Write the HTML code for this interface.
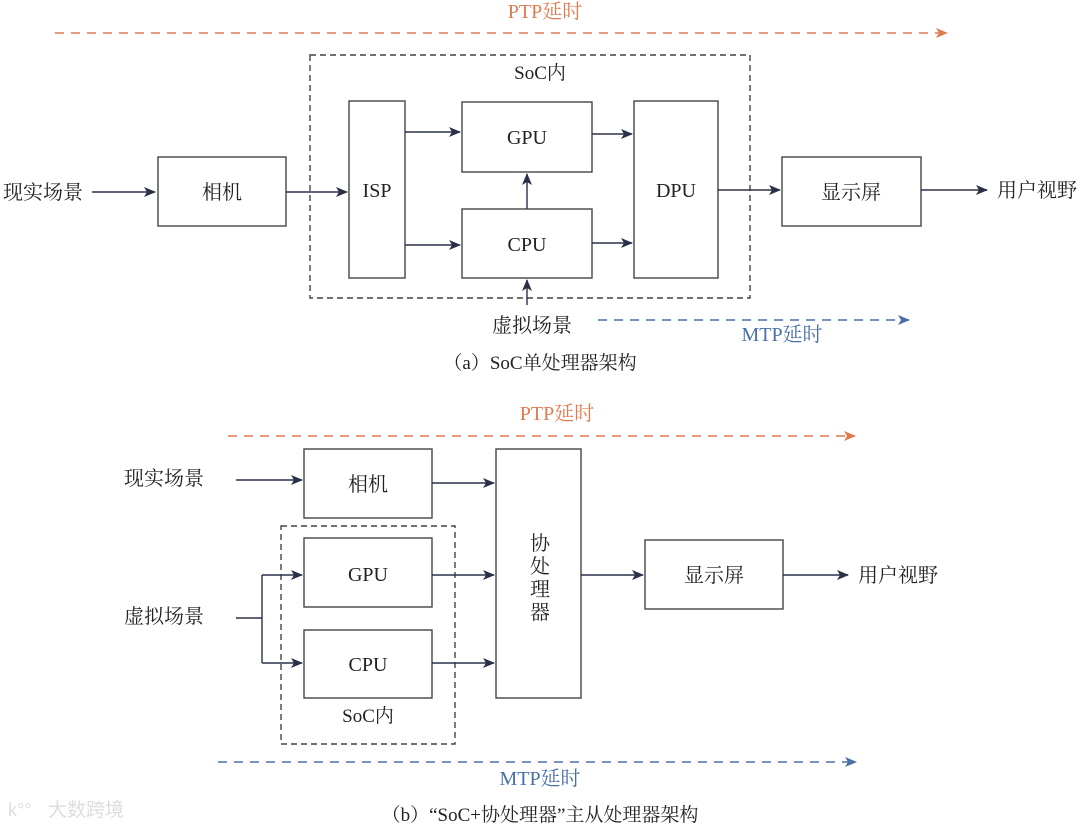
<!DOCTYPE html>
<html><head><meta charset="utf-8"><style>
body{margin:0;background:#fff}
svg{display:block}
text{font-family:"Liberation Serif","Noto Serif CJK SC",serif;fill:#222}
</style></head><body>
<svg width="1080" height="829" viewBox="0 0 1080 829" xmlns="http://www.w3.org/2000/svg">
<defs>
<marker id="a" markerWidth="12" markerHeight="10" refX="11" refY="5" orient="auto" markerUnits="userSpaceOnUse"><path d="M0,0 L12,5 L0,10 L3,5z" fill="#2a3048"/></marker>
<marker id="o" markerWidth="12" markerHeight="10" refX="11" refY="5" orient="auto" markerUnits="userSpaceOnUse"><path d="M0,0 L12,5 L0,10 L3,5z" fill="#e07a50"/></marker>
<marker id="b" markerWidth="12" markerHeight="10" refX="11" refY="5" orient="auto" markerUnits="userSpaceOnUse"><path d="M0,0 L12,5 L0,10 L3,5z" fill="#4a70a8"/></marker>
</defs>
<g fill="none" stroke="#444" stroke-width="1.4">
<rect x="310" y="55" width="440" height="243" stroke-dasharray="6,4"/>
<rect x="158" y="157" width="128" height="69"/>
<rect x="349" y="101" width="56" height="177"/>
<rect x="462" y="102" width="130" height="70"/>
<rect x="462" y="209" width="130" height="69"/>
<rect x="634" y="101" width="84" height="177"/>
<rect x="782" y="157" width="139" height="69"/>
<rect x="281" y="526" width="174" height="218" stroke-dasharray="6,4"/>
<rect x="304" y="449" width="128" height="69"/>
<rect x="496" y="449" width="85" height="249"/>
<rect x="304" y="538" width="128" height="69"/>
<rect x="304" y="630" width="128" height="68"/>
<rect x="645" y="540" width="138" height="69"/>
</g>
<g stroke="#2a3048" stroke-width="1.4" fill="none" marker-end="url(#a)">
<line x1="92" y1="192" x2="155" y2="192"/>
<line x1="286" y1="192" x2="347" y2="192"/>
<line x1="405" y1="132" x2="460" y2="132"/>
<line x1="405" y1="245" x2="460" y2="245"/>
<line x1="592" y1="134" x2="632" y2="134"/>
<line x1="592" y1="243" x2="632" y2="243"/>
<line x1="527" y1="209" x2="527" y2="174"/>
<line x1="527" y1="305" x2="527" y2="280"/>
<line x1="718" y1="190" x2="780" y2="190"/>
<line x1="921" y1="190" x2="987" y2="190"/>
<line x1="236" y1="480" x2="302" y2="480"/>
<line x1="432" y1="483" x2="494" y2="483"/>
<line x1="432" y1="575" x2="494" y2="575"/>
<line x1="432" y1="663" x2="494" y2="663"/>
<line x1="581" y1="575" x2="643" y2="575"/>
<line x1="783" y1="575" x2="848" y2="575"/>
<polyline points="262,575 302,575"/>
<polyline points="262,663 302,663"/>
</g>
<polyline points="236,618 262,618" stroke="#2a3048" stroke-width="1.4" fill="none"/>
<line x1="262" y1="575" x2="262" y2="663" stroke="#2a3048" stroke-width="1.4"/>
<g stroke-width="1.6" stroke-dasharray="9,7" fill="none">
<line x1="55" y1="33" x2="947" y2="33" stroke="#e07a50" marker-end="url(#o)"/>
<line x1="598" y1="320" x2="909" y2="320" stroke="#4a70a8" marker-end="url(#b)"/>
<line x1="228" y1="436" x2="855" y2="436" stroke="#e07a50" marker-end="url(#o)"/>
<line x1="218" y1="762" x2="856" y2="762" stroke="#4a70a8" marker-end="url(#b)"/>
</g>
<g font-size="20" text-anchor="middle">
<text x="545" y="18" style="fill:#e07a50">PTP延时</text>
<text x="540" y="79" font-size="19">SoC内</text>
<text x="43" y="199">现实场景</text>
<text x="222" y="199">相机</text>
<text x="377" y="197">ISP</text>
<text x="527" y="144">GPU</text>
<text x="527" y="251">CPU</text>
<text x="676" y="197">DPU</text>
<text x="851" y="199">显示屏</text>
<text x="1037" y="197">用户视野</text>
<text x="532" y="332">虚拟场景</text>
<text x="782" y="341" style="fill:#4a70a8">MTP延时</text>
<text x="540" y="369" font-size="19">（a）SoC单处理器架构</text>
<text x="557" y="420" style="fill:#e07a50">PTP延时</text>
<text x="164" y="485">现实场景</text>
<text x="368" y="491">相机</text>
<text x="368" y="581">GPU</text>
<text x="368" y="671">CPU</text>
<text x="368" y="722" font-size="19">SoC内</text>
<text x="164" y="623">虚拟场景</text>
<text x="714" y="582">显示屏</text>
<text x="898" y="582">用户视野</text>
<text x="540" y="785" style="fill:#4a70a8">MTP延时</text>
<text x="540" y="821" font-size="19">（b）“SoC+协处理器”主从处理器架构</text>
<text x="540" y="550">协</text>
<text x="540" y="573">处</text>
<text x="540" y="596">理</text>
<text x="540" y="619">器</text>
</g>
<text x="48" y="816" font-size="19" style="fill:#ddd;font-family:'Noto Sans CJK SC',sans-serif">大数跨境</text>
<text x="8" y="816" font-size="18" style="fill:#ddd;font-family:'Liberation Sans',sans-serif">k°°</text>
</svg>
</body></html>
